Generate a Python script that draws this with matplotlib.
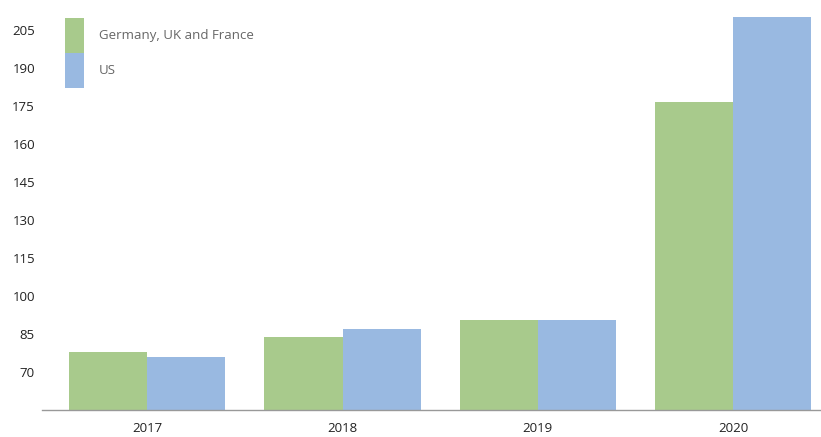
import numpy as np
import matplotlib
matplotlib.use("Agg")
import matplotlib.pyplot as plt

# Data
years = ["2017", "2018", "2019", "2020"]
europe = [77.7, 83.7, 90.4, 176.7]
us = [75.8, 87.1, 90.4, 210.4]
series_labels = ["Germany, UK and France", "US"]
yticks = [70, 85, 100, 115, 130, 145, 160, 175, 190, 205]

green = "#a8ca8c"
blue = "#99b9e1"

plt.rcParams['font.family'] = ['Open Sans', 'DejaVu Sans']

fig = plt.figure(figsize=(8.21, 4.37), dpi=100)
ax = fig.add_axes([0.051, 0.062, 0.949, 0.915])

x = np.arange(len(years))
w = 0.4
ax.bar(x - w / 2, europe, width=w, color=green, label=series_labels[0])
ax.bar(x + w / 2, us, width=w, color=blue, label=series_labels[1])

ax.set_xlim(-0.54, 3.45)
ax.set_ylim(55, 213)
ax.set_xticks(x)
ax.set_xticklabels(years)
ax.set_yticks(yticks)

ax.tick_params(axis="both", length=0, labelsize=9.5, colors="#222222")
ax.tick_params(axis="x", pad=9)
ax.tick_params(axis="y", pad=5)
for s in ["top", "right", "left"]:
    ax.spines[s].set_visible(False)
ax.spines["bottom"].set_color("#999999")
ax.spines["bottom"].set_linewidth(1.0)

leg = ax.legend(loc="upper left", bbox_to_anchor=(0.019, 1.0), frameon=False,
                fontsize=9.5, handlelength=1.45, handleheight=3.7,
                labelspacing=0.0, handletextpad=1.1, borderaxespad=0.53,
                borderpad=0.1)
for t in leg.get_texts():
    t.set_color("#666666")

fig.savefig("out.png", dpi=100)
